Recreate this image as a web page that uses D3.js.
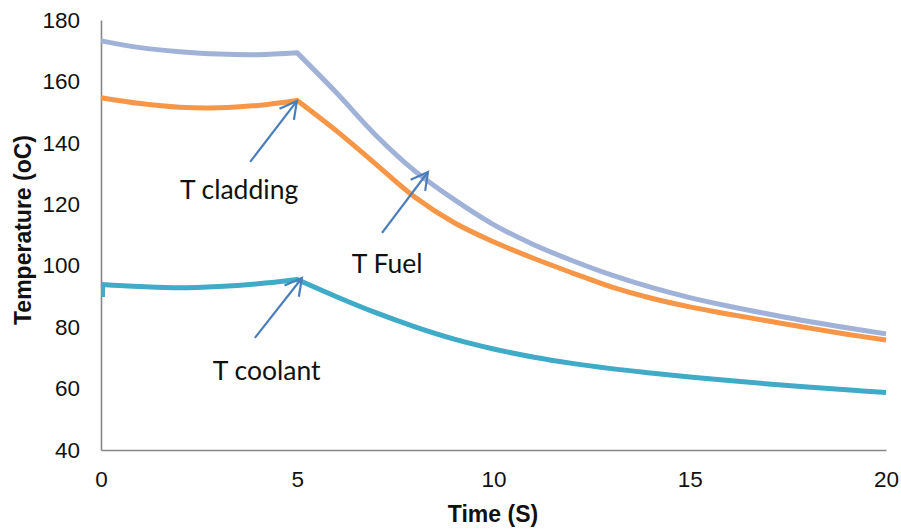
<!DOCTYPE html>
<html>
<head>
<meta charset="utf-8">
<script src="https://cdn.jsdelivr.net/npm/d3@7"></script>
<style>
  html, body { margin: 0; padding: 0; background: #fff; }
  svg { display: block; }
</style>
</head>
<body>
<svg id="chart" width="901" height="531"></svg>
<script>
// ---- data ----
const time = [0,1,2,3,4,5,6,7,8,9,10,11,12,13,14,15,16,17,18,19,20];
const tCladdingBlue = [173.2,171.0,169.7,168.9,168.7,169.3,156.3,142.5,130.8,121.5,113.4,107.0,101.7,97.0,93.0,89.6,86.8,84.3,81.9,79.8,77.8];
const tOrange = [154.7,152.8,151.6,151.4,152.2,153.8,143.9,133.1,122.3,114.0,107.8,102.5,97.7,93.1,89.5,86.6,84.2,82.0,79.8,77.7,75.8];
const tCoolant = [93.9,93.2,92.8,93.2,94.1,95.5,89.9,84.7,80.1,76.1,72.9,70.3,68.2,66.5,65.1,63.8,62.6,61.5,60.5,59.6,58.7];
const coolantStartValue = 89.8;
const xTicks = [0,5,10,15,20];
const yTicks = [40,60,80,100,120,140,160,180];
const xTitle = "Time (S)";
const yTitle = "Temperature (oC)";
const labels = ["T cladding", "T Fuel", "T coolant"];
// annotation anchors in data units: [labelT, labelV, tailT, tailV, tipT, tipV]
const annotations = [
  [2.01, 121.7, 3.80, 133.8, 4.99, 153.6],
  [6.39, 97.6, 7.16, 110.7, 8.33, 130.5],
  [2.85, 62.8, 3.92, 76.5, 5.12, 96.0]
];

// ---- layout ----
const svg = d3.select("#chart");
const x = d3.scaleLinear().domain([0, 20]).range([101, 886]);
const y = d3.scaleLinear().domain([40, 180]).range([450, 20]);
const axisColor = "#868686";

// axes
const gx = svg.append("g").attr("transform", "translate(0,450)")
  .call(d3.axisBottom(x).tickValues(xTicks).tickSize(0).tickPadding(21).tickFormat(d3.format("d")));
const gy = svg.append("g").attr("transform", "translate(101,0)")
  .call(d3.axisLeft(y).tickValues(yTicks).tickSize(0).tickPadding(21).tickFormat(d3.format("d")));
[gx, gy].forEach(g => {
  g.select(".domain").attr("stroke", axisColor).attr("stroke-width", 1.6);
  g.selectAll("text").attr("font-family", "'Liberation Sans', Arial, sans-serif")
    .attr("font-size", 22.5).attr("fill", "#111");
});

// titles
svg.append("text").attr("x", 493).attr("y", 522).attr("text-anchor", "middle")
  .attr("font-family", "'Liberation Sans', Arial, sans-serif").attr("font-weight", "bold")
  .attr("font-size", 23).attr("fill", "#111").text(xTitle);
svg.append("text").attr("transform", "translate(31,230) rotate(-90)").attr("text-anchor", "middle")
  .attr("font-family", "'Liberation Sans', Arial, sans-serif").attr("font-weight", "bold")
  .attr("font-size", 23).attr("fill", "#111").text(yTitle);

// lines: smooth pieces joined at the sharp kink at t=5
const kink = time.indexOf(5);
const lineGen = d3.line().x(d => x(d[0])).y(d => y(d[1])).curve(d3.curveCatmullRom.alpha(0.5));
function seriesPath(vals) {
  const pts = time.map((t, i) => [t, vals[i]]);
  const a = lineGen(pts.slice(0, kink + 1));
  const b = lineGen(pts.slice(kink));
  return a + b.replace(/^M/, "L");
}
const series = [
  { vals: tCladdingBlue, color: "#a0b2d7" },
  { vals: tOrange, color: "#f79646" },
  { vals: tCoolant, color: "#3fabc6" }
];
series.forEach(s => {
  svg.append("path").attr("d", seriesPath(s.vals)).attr("fill", "none")
    .attr("stroke", s.color).attr("stroke-width", 5).attr("stroke-linejoin", "miter");
});
// small start tick on coolant
svg.append("path")
  .attr("d", d3.line().x(d => x(d[0]) + 2).y(d => y(d[1]))([[0, coolantStartValue], [0, tCoolant[0]]]))
  .attr("fill", "none").attr("stroke", "#3fabc6").attr("stroke-width", 4);

// annotations
const arrowColor = "#4a7ebb";
annotations.forEach((a, i) => {
  const [lt, lv, tt, tv, pt, pv] = a;
  const x1 = x(tt), y1 = y(tv), x2 = x(pt), y2 = y(pv);
  svg.append("line").attr("x1", x1).attr("y1", y1).attr("x2", x2).attr("y2", y2)
    .attr("stroke", arrowColor).attr("stroke-width", 2.2);
  const ang = Math.atan2(y1 - y2, x1 - x2);
  const len = 19, spread = 0.5;
  const p1 = [x2 + len * Math.cos(ang + spread), y2 + len * Math.sin(ang + spread)];
  const p2 = [x2 + len * Math.cos(ang - spread), y2 + len * Math.sin(ang - spread)];
  svg.append("path").attr("d", `M${p1[0]},${p1[1]}L${x2},${y2}L${p2[0]},${p2[1]}`)
    .attr("fill", "none").attr("stroke", arrowColor).attr("stroke-width", 2.2)
    .attr("stroke-linejoin", "miter");
  svg.append("text").attr("x", x(lt)).attr("y", y(lv))
    .attr("font-family", "Lato, 'Open Sans', sans-serif").attr("font-size", 26.5)
    .attr("fill", "#111").text(labels[i]);
});
</script>
</body>
</html>
